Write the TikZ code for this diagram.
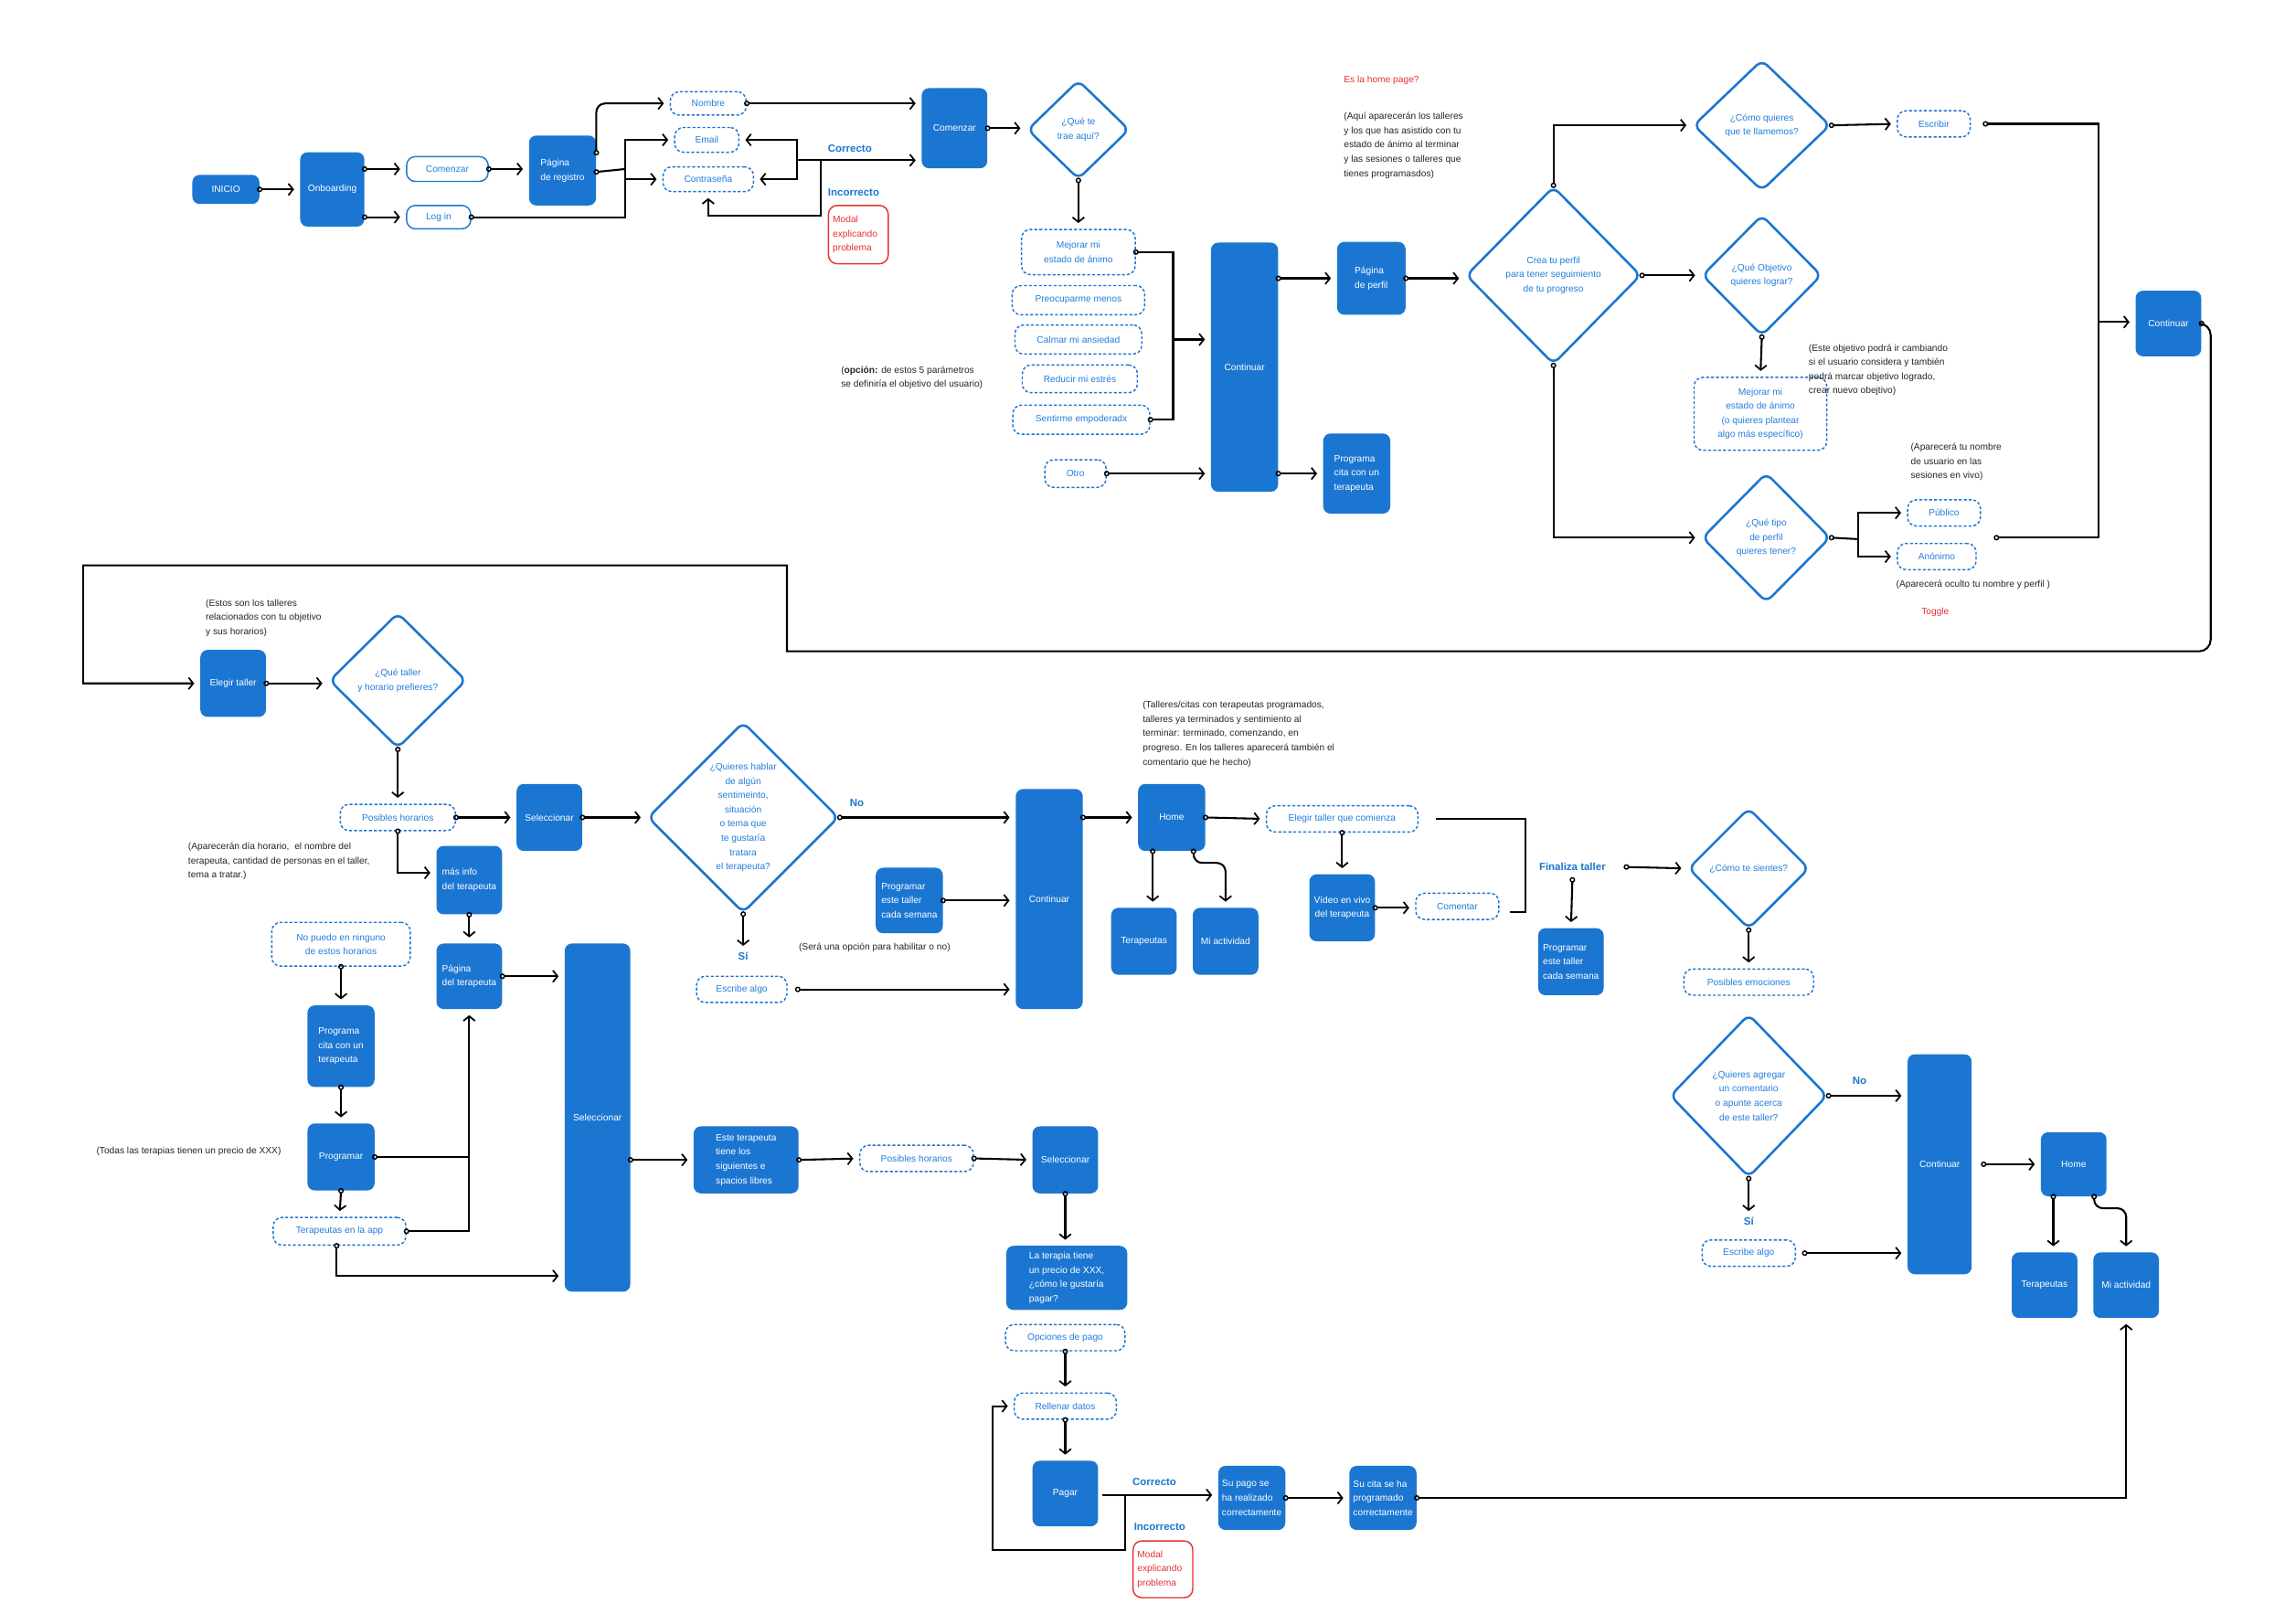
\documentclass[tikz,border=0pt]{standalone}
\usepackage{fontspec}
\setmainfont{Liberation Sans}
\usetikzlibrary{shapes.geometric,arrows.meta,calc}
\definecolor{nblue}{RGB}{27,118,210}
\definecolor{tblue}{RGB}{35,125,220}
\definecolor{nred}{RGB}{228,50,52}
\newcommand\nf{\fontsize{6.4}{9.8}\selectfont}
\newcommand\lblfont{\fontsize{7.2}{9}\selectfont\bfseries}
\begin{document}
\begin{tikzpicture}[x=1pt,y=-1pt,
  sz/.style 2 args={minimum width=#1,minimum height=#2},
  blk/.style={fill=nblue,rounded corners=5pt,text=white,font=\nf,align=center,inner sep=0pt},
  blkl/.style={blk,align=left},
  outl/.style={draw=nblue,line width=0.9pt,fill=white,rounded corners=6pt,text=tblue,font=\nf,align=center,inner sep=0pt},
  dsh/.style={draw=nblue,line width=0.9pt,dash pattern=on 2pt off 1.4pt,fill=white,rounded corners=6pt,text=tblue,font=\nf,align=center,inner sep=0pt},
  modal/.style={draw=nred,line width=0.9pt,rounded corners=6pt,text=nred,font=\nf,align=left,inner sep=0pt},
  dia/.style 2 args={diamond,draw=nblue,line width=1.6pt,rounded corners=5pt,inner sep=0pt,minimum width=#1,minimum height=#2,aspect=1},
  dtxt/.style={text=tblue,font=\nf,align=center},
  note/.style={font=\nf,align=left,inner sep=0pt,text=black!85},
  lbl/.style={font=\lblfont,text=nblue,inner sep=0pt},
  ln/.style={draw=black,line width=1.3pt},
  cn/.style={ln,{Circle[open,length=3.8pt,width=3.8pt,line width=0.9pt]}-{Straight Barb[length=3.2pt,width=8pt,line width=1.1pt]},shorten <=-1.9pt,shorten >=4pt},
  st/.style={ln,{Circle[open,length=3.8pt,width=3.8pt,line width=0.9pt]}-,shorten <=-1.9pt},
  ar/.style={ln,-{Straight Barb[length=3.2pt,width=8pt,line width=1.1pt]},shorten >=4pt}]

\useasboundingbox (0,0) rectangle (1568,1114);
\fill[white] (0,0) rectangle (1568,1114);

% ---------- registration ----------
\node[blk,sz={46}{20}] (inicio) at (155,130) {INICIO};
\node[blk,sz={44}{51}] (onb) at (228,130) {Onboarding};
\node[outl,sz={56}{17}] (com1) at (307,116) {Comenzar};
\node[outl,sz={44}{16}] (login) at (301,149) {Log in};
\node[blkl,sz={46}{48}] (preg) at (386,117) {Página\\de registro};
\node[dsh,sz={52}{16}] (nombre) at (486,71) {Nombre};
\node[dsh,sz={44}{17}] (email) at (485,96) {Email};
\node[dsh,sz={62}{17}] (contra) at (486,123) {Contraseña};
\node[blk,sz={45}{55}] (com2) at (655,88) {Comenzar};
\node[lbl,anchor=west] (corr1) at (568,102) {Correcto};
\node[lbl,anchor=west] (inc1) at (568,132) {Incorrecto};
\node[modal,sz={41}{40},text width=35pt] (modal1) at (589,161) {Modal\\explicando\\problema};

\draw[cn] (inicio.east) -- (onb.west);
\draw[cn] (onb.east |- com1.west) -- (com1.west);
\draw[cn] (onb.east |- login.west) -- (login.west);
\draw[cn] (com1.east) -- (preg.west |- com1.east);
\draw[cn,rounded corners=6pt] ([yshift=-12pt]preg.north east) |- (nombre.west);
\coordinate (jA) at (429,116);
\draw[st] ([yshift=-1pt]preg.east) -- (jA);
\draw[ar] (jA) |- (email.west);
\draw[ar] (jA) |- (contra.west);
\draw[st] (login.east) -| (jA);
\draw[cn] (nombre.east) -- (com2.west |- nombre.east);
\coordinate (jB) at (547,110);
\coordinate (jC) at (563,110);
\draw[ar] (jB) |- (email.east);
\draw[ar] (jB) |- (contra.east);
\draw[ar] (jB) -- (com2.west |- jB);
\draw[ar] (jC) |- ([yshift=-16pt]contra.south) -- (contra.south);

% ---------- goals ----------
\node[dia={70}{68},label={[dtxt]center:¿Qué te\\trae aquí?}] (trae) at (740,89) {};
\node[dsh,sz={78}{31}] (mej1) at (740,173) {Mejorar mi\\estado de ánimo};
\node[dsh,sz={91}{20}] (preoc) at (740,206) {Preocuparme menos};
\node[dsh,sz={87}{20}] (calmar) at (740,233) {Calmar mi ansiedad};
\node[dsh,sz={79}{19}] (reducir) at (741,260) {Reducir mi estrés};
\node[dsh,sz={94}{20}] (sentir) at (742,288) {Sentirme empoderadx};
\node[dsh,sz={42}{19}] (otro) at (738,325) {Otro};
\node[blk,sz={46}{171}] (cont1) at (854,252) {Continuar};
\node[blkl,sz={47}{50}] (perfil) at (941,191) {Página\\de perfil};
\node[blkl,sz={46}{55}] (pcita1) at (931,325) {Programa\\cita con un\\terapeuta};
\node[note,anchor=north west] (opcion) at (577,251) {(\textbf{opción:} de estos 5 parámetros\\se definiría el objetivo del usuario)};

\draw[cn] (com2.east) -- (trae.west |- com2.east);
\draw[cn] (trae.south) -- (mej1.north);
\coordinate (jE) at (805,233);
\draw[st] (mej1.east) -| (jE);
\draw[st] (sentir.east) -| (jE);
\draw[ar] (jE) -- (cont1.west |- jE);
\draw[cn] (otro.east) -- (cont1.west |- otro.east);
\draw[cn] (cont1.east |- perfil.west) -- (perfil.west);
\draw[cn] (cont1.east |- pcita1.west) -- (pcita1.west);

% ---------- profile ----------
\node[text=nred,font=\nf,anchor=west,inner sep=0pt] (homeq) at (922,55) {Es la home page?};
\node[note,anchor=north west] (aqui) at (922,77) {(Aquí aparecerán los talleres\\y los que has asistido con tu\\estado de ánimo al terminar\\y las sesiones o talleres que\\tienes programasdos)};
\node[dia={120}{122},label={[dtxt]center:Crea tu perfil\\para tener seguimiento\\de tu progreso}] (crea) at (1066,189) {};
\node[dia={94}{90},label={[dtxt]center:¿Cómo quieres\\que te llamemos?}] (llam) at (1209,86) {};
\node[dia={82}{83},label={[dtxt]center:¿Qué Objetivo\\quieres lograr?}] (obj) at (1209,189) {};
\node[dia={88}{89},label={[dtxt]center:¿Qué tipo\\de perfil\\quieres tener?}] (tipo) at (1212,369) {};
\node[dsh,sz={50}{18}] (escr) at (1327,85) {Escribir};
\node[dsh,sz={91}{50}] (mej2) at (1208,284) {Mejorar mi\\estado de ánimo\\(o quieres plantear\\algo más específico)};
\node[note,anchor=north west] (objnote) at (1241,236) {(Este objetivo podrá ir cambiando\\si el usuario considera y también\\podrá marcar objetivo logrado,\\crear nuevo obejtivo)};
\node[dsh,sz={50}{18}] (pub) at (1334,352) {Público};
\node[dsh,sz={54}{18}] (anon) at (1329,382) {Anónimo};
\node[note,anchor=north west] (pubnote) at (1311,304) {(Aparecerá tu nombre\\de usuario en las\\sesiones en vivo)};
\node[note,anchor=west] (anonnote) at (1301,401) {(Aparecerá oculto tu nombre y perfil )};
\node[text=nred,font=\nf,inner sep=0pt] (toggle) at (1328,420) {Toggle};
\node[blk,sz={45}{45}] (cont3) at (1488,222) {Continuar};

\draw[cn] (perfil.east) -- (crea.west |- perfil.east);
\draw[cn] (crea.north) |- (llam.west);
\draw[cn] (llam.east) -- (escr.west);
\draw[cn] (crea.east) -- (obj.west);
\draw[cn] (obj.south) -- (mej2.north);
\draw[cn] (crea.south) |- (tipo.west);
\coordinate (jH) at (1275,370);
\draw[st] (tipo.east) -- (jH);
\draw[ar] (jH) |- (pub.west);
\draw[ar] (jH) |- (anon.west);
\coordinate (jF) at (1440,221);
\coordinate (pubout) at (1370,369);
\draw[st] ([xshift=10pt]escr.east) -| (jF);
\draw[st] (pubout) -| (jF);
\draw[ar] (jF) -- (cont3.west |- jF);

% ---------- workshop choice ----------
\node[blk,sz={45}{46}] (elegir) at (160,469) {Elegir taller};
\node[note,anchor=north west] (tnote) at (141,411) {(Estos son los talleres\\relacionados con tu objetivo\\y sus horarios)};
\node[dia={94}{93},label={[dtxt]center:¿Qué taller\\y horario prefieres?}] (taller) at (273,467) {};
\node[dsh,sz={79}{18}] (posh1) at (273,561) {Posibles horarios};
\node[blk,sz={45}{46}] (sel1) at (377,561) {Seleccionar};
\node[blkl,sz={45}{47}] (masinfo) at (322,604) {más info\\del terapeuta};
\node[note,anchor=north west] (apnote) at (129,578) {(Aparecerán día horario,\ \ el nombre del\\terapeuta, cantidad de personas en el taller,\\tema a tratar.)};
\node[dia={131}{131},label={[dtxt]center:¿Quieres hablar\\de algún\\sentimeinto,\\situación\\o tema que\\te gustaría\\tratara\\el terapeuta?}] (hablar) at (510,561) {};
\node[lbl] (no1) at (588,551) {No};
\node[lbl] (si1) at (510,656) {Sí};
\node[dsh,sz={62}{18}] (escr1) at (509,679) {Escribe algo};
\node[blkl,sz={46}{45}] (psem1) at (624,618) {Programar\\este taller\\cada semana};
\node[note,anchor=west] (sera) at (548,650) {(Será una opción para habilitar o no)};
\node[blk,sz={46}{151}] (cont4) at (720,617) {Continuar};

\coordinate (ret1) at (1517,222);
\coordinate (ret2) at (1517,447);
\coordinate (ret3) at (540,447);
\coordinate (ret4) at (540,388);
\coordinate (ret5) at (57,388);
\coordinate (ret6) at (57,469);
\draw[cn] (cont3.east) [rounded corners=8pt] -- (ret1) -- (ret2) [sharp corners] -- (ret3) -- (ret4) -- (ret5) -- (ret6) -- (elegir.west);
\draw[cn] (elegir.east) -- (taller.west |- elegir.east);
\draw[cn] (taller.south) -- (posh1.north);
\draw[cn] (posh1.east) -- (sel1.west);
\draw[cn] (posh1.south) |- ([yshift=5pt]masinfo.west);
\draw[cn] (sel1.east) -- (hablar.west);
\draw[cn] (hablar.east) -- (cont4.west |- hablar.east);
\draw[cn] (hablar.south) -- (si1.north);
\draw[cn] ([xshift=7pt]escr1.east) -- (cont4.west |- escr1.east);
\draw[cn] (psem1.east) -- (cont4.west |- psem1.east);

% ---------- home and workshop ----------
\node[note,anchor=north west] (homenote) at (784,481) {(Talleres/citas con terapeutas programados,\\talleres ya terminados y sentimiento al\\terminar: terminado, comenzando, en\\progreso. En los talleres aparecerá también el\\comentario que he hecho)};
\node[blk,sz={46}{46}] (home1) at (804,561) {Home};
\node[blk,sz={45}{46}] (ter1) at (785,646) {Terapeutas};
\node[blk,sz={45}{46}] (act1) at (841,646) {Mi actividad};
\node[dsh,sz={104}{18}] (elcom) at (921,562) {Elegir taller que comienza};
\node[blk,sz={45}{46}] (video) at (921,623) {Vídeo en vivo\\del terapeuta};
\node[dsh,sz={57}{18}] (coment) at (1000,622) {Comentar};
\node[lbl] (fin) at (1079,595) {Finaliza taller};
\node[dia={83}{83},label={[dtxt]center:¿Cómo te sientes?}] (sient) at (1200,596) {};
\node[blkl,sz={45}{46}] (psem2) at (1078,660) {Programar\\este taller\\cada semana};
\node[dsh,sz={89}{18}] (posemo) at (1200,674) {Posibles emociones};
\node[dia={108}{112},label={[dtxt]center:¿Quieres agregar\\un comentario\\o apunte acerca\\de este taller?}] (agreg) at (1200,752) {};
\node[lbl] (no2) at (1276,742) {No};
\node[lbl] (si2) at (1200,838) {Sí};
\node[dsh,sz={64}{18}] (escr2) at (1200,860) {Escribe algo};
\node[blk,sz={44}{151}] (cont5) at (1331,799) {Continuar};
\node[blk,sz={45}{44}] (home2) at (1423,799) {Home};
\node[blk,sz={45}{45}] (ter2) at (1403,882) {Terapeutas};
\node[blk,sz={45}{45}] (act2) at (1459,882) {Mi actividad};

\coordinate (brk1) at (1047,626);
\coordinate (brk2) at (1036,626);
\draw[cn] (cont4.east |- home1.west) -- (home1.west);
\draw[cn] ([xshift=-13pt]home1.south) -- ([xshift=-13pt]home1.south |- ter1.north);
\draw[cn,rounded corners=6pt] ([xshift=15pt]home1.south) -- ++(0,8) -| (act1.north);
\draw[cn] (home1.east) -- (elcom.west);
\draw[cn] (elcom.south) -- (video.north);
\draw[cn] (video.east) -- (coment.west |- video.east);
\draw[ln] ([xshift=12pt]elcom.east) -| (brk1) -- (brk2);
\draw[cn] ([xshift=14pt]fin.east) -- (sient.west);
\draw[cn] ([yshift=-6pt]fin.south) -- (psem2.north);
\draw[cn] (sient.south) -- (posemo.north);
\draw[cn] (agreg.east) -- (cont5.west |- agreg.east);
\draw[cn] (agreg.south) -- (si2.north);
\draw[cn] ([xshift=6pt]escr2.east) -- (cont5.west |- escr2.east);
\draw[cn] ([xshift=8pt]cont5.east) -- (home2.west);
\draw[cn] ([xshift=-14pt]home2.south) -- ([xshift=-14pt]home2.south |- ter2.north);
\draw[cn,rounded corners=6pt] ([xshift=14pt]home2.south) -- ++(0,8) -| (act2.north);

% ---------- therapist booking ----------
\node[dsh,sz={95}{30}] (nopuedo) at (234,648) {No puedo en ninguno\\de estos horarios};
\node[blkl,sz={46}{56}] (pcita2) at (234,718) {Programa\\cita con un\\terapeuta};
\node[blk,sz={46}{46}] (progr) at (234,794) {Programar};
\node[note,anchor=west] (todas) at (66,790) {(Todas las terapias tienen un precio de XXX)};
\node[dsh,sz={91}{19}] (terapp) at (233,845) {Terapeutas en la app};
\node[blkl,sz={45}{45}] (pagter) at (322,670) {Página\\del terapeuta};
\node[blk,sz={45}{239}] (sel2) at (410,767) {Seleccionar};
\node[blkl,sz={72}{46}] (este) at (512,796) {Este terapeuta\\tiene los\\siguientes e\\spacios libres};
\node[dsh,sz={78}{18}] (posh2) at (629,795) {Posibles horarios};
\node[blk,sz={45}{46}] (sel3) at (731,796) {Seleccionar};
\node[blkl,sz={83}{44}] (laterapia) at (732,877) {La terapia tiene\\un precio de XXX,\\¿cómo le gustaría\\pagar?};
\node[dsh,sz={82}{18}] (opc) at (731,918) {Opciones de pago};
\node[dsh,sz={70}{18}] (rell) at (731,965) {Rellenar datos};
\node[blk,sz={45}{45}] (pagar) at (731,1025) {Pagar};
\node[lbl,anchor=west] (corr2) at (777,1017) {Correcto};
\node[lbl,anchor=west] (inc2) at (778,1048) {Incorrecto};
\node[modal,sz={41}{39},text width=35pt] (modal2) at (798,1077) {Modal\\explicando\\problema};
\node[blkl,sz={46}{44}] (supago) at (859,1028) {Su pago se\\ha realizado\\correctamente};
\node[blkl,sz={46}{44}] (sucita) at (949,1028) {Su cita se ha\\programado\\correctamente};

\draw[cn] (nopuedo.south) -- (pcita2.north);
\draw[cn] (pcita2.south) -- (progr.north);
\draw[cn] (progr.south) -- (terapp.north);
\draw[cn] (masinfo.south) -- (pagter.north);
\draw[cn] (terapp.east) -| (pagter.south);
\draw[st] (progr.east) -- (progr.east -| pagter.south);
\draw[cn] ([xshift=-2pt]terapp.south) |- ([yshift=11pt]sel2.south west);
\draw[cn] (pagter.east) -- (sel2.west |- pagter.east);
\draw[cn] (sel2.east |- este.west) -- (este.west);
\draw[cn] (este.east) -- (posh2.west);
\draw[cn] (posh2.east) -- (sel3.west);
\draw[cn] (sel3.south) -- (sel3.south |- laterapia.north);
\draw[cn] (opc.south) -- (rell.north);
\draw[cn] (rell.south) -- (pagar.north);
\coordinate (jJ) at (772,1026);
\coordinate (jK) at (681,1064);
\draw[ar] ([xshift=3pt]pagar.east |- jJ) -- (supago.west |- jJ);
\draw[ar] (jJ) |- (jK) |- (rell.west);
\draw[cn] (supago.east) -- (sucita.west);
\draw[cn] (sucita.east) -| (act2.south);
\end{tikzpicture}
\end{document}
